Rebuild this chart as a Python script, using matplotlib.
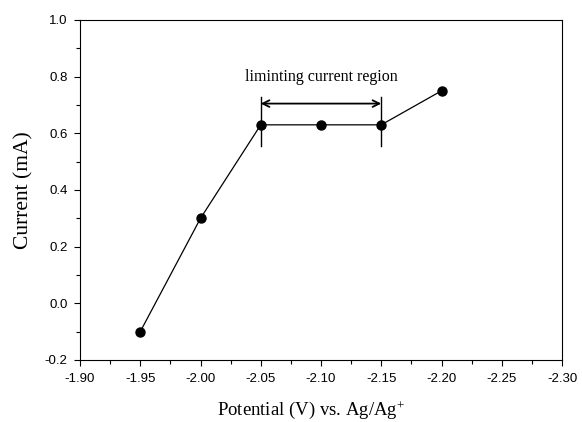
import matplotlib
matplotlib.use("Agg")
import matplotlib.pyplot as plt
from matplotlib.ticker import MultipleLocator, FormatStrFormatter

plt.rcParams["mathtext.fontset"] = "custom"
plt.rcParams["mathtext.rm"] = "Liberation Serif"
plt.rcParams["mathtext.it"] = "Liberation Serif:italic"

potential = [-1.95, -2.00, -2.05, -2.10, -2.15, -2.20]
current = [-0.10, 0.30, 0.63, 0.63, 0.63, 0.75]
region_start = -2.05
region_end = -2.15
region_label = "liminting current region"

fig = plt.figure(figsize=(5.82, 4.22), dpi=100)
ax = fig.add_axes([80/582, 62/422, 482/582, 340/422])

ax.plot(potential, current, color="black", lw=0.9, marker="o", ms=6.5,
        markerfacecolor="black", markeredgecolor="black")

# limiting current region annotation
ax.plot([region_start, region_start], [0.555, 0.728], color="black", lw=1.0)
ax.plot([region_end, region_end], [0.555, 0.728], color="black", lw=1.0)
ax.annotate("", xy=(region_end, 0.705), xytext=(region_start, 0.705),
            arrowprops=dict(arrowstyle="<->", color="black", lw=1.3,
                            shrinkA=0, shrinkB=0, mutation_scale=12))
ax.text((region_start + region_end) / 2, 0.80, region_label, ha="center",
        va="center", fontsize=11.5, family="Liberation Serif")

ax.set_xlim(-1.90, -2.30)
ax.set_ylim(-0.2, 1.0)
ax.xaxis.set_major_locator(MultipleLocator(0.05))
ax.xaxis.set_minor_locator(MultipleLocator(0.025))
ax.yaxis.set_major_locator(MultipleLocator(0.2))
ax.yaxis.set_minor_locator(MultipleLocator(0.1))
ax.xaxis.set_major_formatter(FormatStrFormatter("%.2f"))
ax.yaxis.set_major_formatter(FormatStrFormatter("%.1f"))
ax.tick_params(which="both", direction="out", top=False, right=False,
               labelsize=9.5, width=0.8)
ax.tick_params(which="major", length=4, pad=5)
ax.tick_params(which="minor", length=3)
for lab in ax.get_xticklabels() + ax.get_yticklabels():
    lab.set_family("Liberation Sans")
for s in ax.spines.values():
    s.set_linewidth(0.8)

ax.set_xlabel("Potential (V) vs. Ag/Ag$^{+}$", fontsize=13.5,
              family="Liberation Serif")
ax.xaxis.set_label_coords(0.479, -0.115)
ax.set_ylabel("Current (mA)", fontsize=15.5, family="Liberation Serif",
              labelpad=8)

fig.savefig("out.png", dpi=100)
